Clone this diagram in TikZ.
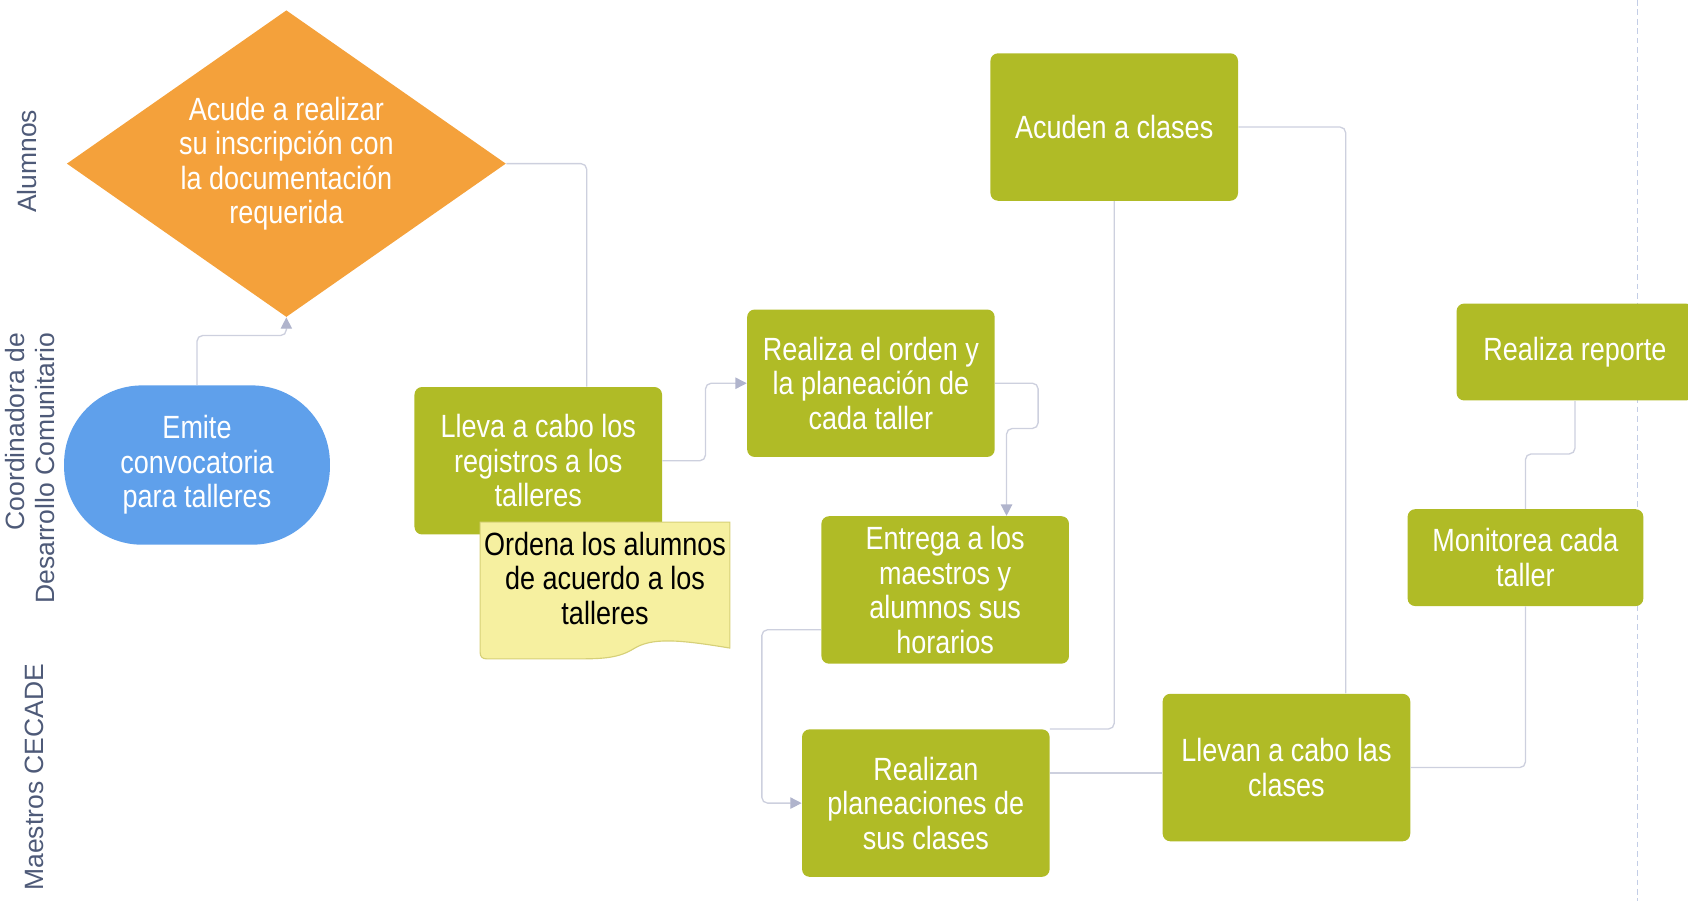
\documentclass[tikz,border=0pt]{standalone}
\usepackage{fontspec}
\setmainfont{Liberation Sans}
\newfontfamily\boxfont{Liberation Sans}[FakeStretch=0.84]
\usetikzlibrary{shapes.geometric,arrows.meta}

\definecolor{taskgreen}{RGB}{176,187,38}
\definecolor{startblue}{RGB}{95,160,235}
\definecolor{askorange}{RGB}{244,161,59}
\definecolor{noteyellow}{RGB}{246,240,160}
\definecolor{noteedge}{RGB}{214,208,120}
\definecolor{flowgray}{RGB}{205,208,222}
\definecolor{tipgray}{RGB}{176,180,204}
\definecolor{lanetext}{RGB}{78,90,120}
\definecolor{borderblue}{RGB}{195,205,230}

\def \boxWidth {4.6cm}
\def \boxHeight {2.74cm}
\def \textSize {\fontsize{17}{18.2}\selectfont}

\begin{document}
\begin{tikzpicture}[x=0.02cm, y=-0.02cm,
      activity/.style={rectangle, rounded corners=4pt, fill=taskgreen, text=white, align=center, inner sep=0pt, minimum width=\boxWidth, minimum height=\boxHeight, font=\boxfont\textSize},
      decision/.style={diamond, aspect=1.43, fill=askorange, text=white, align=center, inner sep=0pt, minimum width=8.16cm, minimum height=5.7cm, font=\boxfont\textSize},
      terminal/.style={rectangle, rounded corners=1.45cm, fill=startblue, text=white, align=center, inner sep=0pt, minimum width=4.94cm, minimum height=2.96cm, font=\boxfont\textSize},
      lanelabel/.style={rotate=90, text=lanetext, font=\fontsize{14}{16}\selectfont},
      flow/.style={draw=flowgray, line width=0.7pt, rounded corners=3pt},
      arrowflow/.style={flow, -{Triangle[width=6pt,length=6pt,color=tipgray]}}]
   \useasboundingbox (0,0) rectangle (1568,837);
   \clip (0,0) rectangle (1568,837);
   \draw[borderblue, densely dashed, line width=0.6pt] (1521,0) -- (1521,837);

   \node[lanelabel, align=center] (alumnos) at (25,150) {Alumnos};
   \node[lanelabel, align=right] (coordinadora) at (28,435) {Coordinadora de\\Desarrollo Comunitario};
   \node[lanelabel, align=center] (maestros) at (32,722) {Maestros CECADE};

   \node[decision] (inscripcion) at (266,152) {Acude a realizar\\su inscripción con\\la documentación\\requerida};
   \node[terminal] (convocatoria) at (183,432) {Emite\\convocatoria\\para talleres};
   \node[activity] (registros) at (500,428) {Lleva a cabo los\\registros a los\\talleres};
   \filldraw[fill=noteyellow, draw=noteedge, line width=0.6pt] (446,485) -- (678,485) -- (678,602) .. controls (630,594) and (605,592) .. (588,603) .. controls (575,611) and (560,612) .. (540,612) -- (452,612) .. controls (448,612) and (446,610) .. (446,606) -- cycle;
   \node[font=\boxfont\textSize, align=center, text=black] (ordena) at (562,537) {Ordena los alumnos\\de acuerdo a los\\talleres};
   \node[activity] (orden) at (809,356) {Realiza el orden y\\la planeación de\\cada taller};
   \node[activity] (entrega) at (878,548) {Entrega a los\\maestros y\\alumnos sus\\horarios};
   \node[activity] (clases) at (1035,118) {Acuden a clases};
   \node[activity] (planeaciones) at (860,746) {Realizan\\planeaciones de\\sus clases};
   \node[activity] (imparten) at (1195,713) {Llevan a cabo las\\clases};
   \node[activity, minimum width=4.38cm, minimum height=1.8cm] (monitorea) at (1417,518) {Monitorea cada\\taller};
   \node[activity, minimum width=4.4cm, minimum height=1.8cm] (reporte) at (1463,327) {Realiza reporte};

   \draw[arrowflow] (convocatoria.north) -- ++(0,-46) -| (inscripcion.south);
   \draw[flow] (inscripcion.east) -| ([xshift=0.9cm]registros.north);
   \draw[arrowflow] (registros.east) -- ++(40,0) |- (orden.west);
   \draw[arrowflow] (orden.east) -- ++(40,0) -- ++(0,42) -| ([xshift=1.14cm]entrega.north);
   \draw[arrowflow] ([yshift=-0.74cm]entrega.west) -- ++(-55,0) |- (planeaciones.west);
   \draw[flow] ([yshift=0.56cm]planeaciones.east) -- ([yshift=0.56cm]planeaciones.east -| imparten.west);
   \draw[flow] (clases.south) |- (planeaciones.north east);
   \draw[flow] (clases.east) -| ([xshift=1.1cm]imparten.north);
   \draw[flow] (imparten.east) -| (monitorea.south);
   \draw[flow] (monitorea.north) -- ++(0,-51) -| (reporte.south);
\end{tikzpicture}
\end{document}
